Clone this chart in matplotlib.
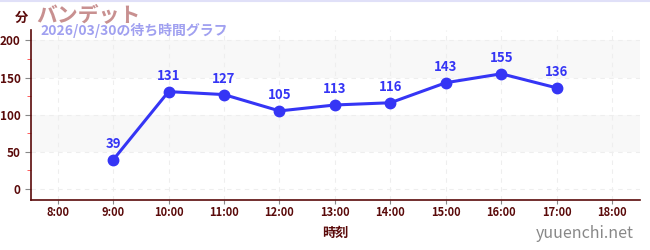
import matplotlib
matplotlib.use("Agg")
import matplotlib.pyplot as plt

plt.rcParams['font.family'] = ['Noto Sans CJK JP', 'DejaVu Sans']

hours = [9, 10, 11, 12, 13, 14, 15, 16, 17]
waits = [39, 131, 127, 105, 113, 116, 143, 155, 136]
xtick_hours = list(range(8, 19))
xtick_labels = [f"{h}:00" for h in xtick_hours]
yticks = [0, 50, 100, 150, 200]
title = "バンデット"
subtitle = "2026/03/30の待ち時間グラフ"
ylabel = "分"
xlabel = "時刻"
site = "yuuenchi.net"

fig = plt.figure(figsize=(6.5, 2.5), dpi=100)
ax = fig.add_axes([31/650, 50/250, 609/650, 170/250])
ax.set_xlim(7.52, 18.5)
ax.set_ylim(-15, 214)

for lo, hi in [(50, 100), (150, 200)]:
    ax.axhspan(lo, hi, color='#f8f8f8', zorder=0, lw=0)

ax.set_xticks(xtick_hours)
ax.set_xticklabels(xtick_labels)
ax.set_yticks(yticks)
ax.set_yticks([25, 75, 125, 175], minor=True)
ax.grid(True, axis='both', which='major', color='#eeeeee', linestyle=(0, (4, 4)), lw=0.8, zorder=0)

dark = '#5a0a0a'
for s in ['top', 'right']:
    ax.spines[s].set_visible(False)
ax.spines['left'].set_color(dark)
ax.spines['bottom'].set_color(dark)
ax.spines['left'].set_linewidth(1.2)
ax.spines['bottom'].set_linewidth(1.2)
ax.tick_params(axis='x', colors='#888888', length=3, pad=1.5, labelsize=8, labelcolor=dark)
ax.tick_params(axis='y', colors='#888888', length=4, labelsize=8.5, labelcolor=dark)
ax.tick_params(axis='y', which='minor', colors='#ff4444', length=3)
for lab in ax.get_xticklabels() + ax.get_yticklabels():
    lab.set_fontweight('bold')

line_c = '#3535f5'
ax.plot(hours, waits, color=line_c, lw=2.2, marker='o', ms=7.5, zorder=3)
for h, w in zip(hours, waits):
    ax.annotate(str(w), (h, w), xytext=(0, 6.5), textcoords='offset points',
                ha='center', va='bottom', color=line_c, fontsize=9.5, fontweight='bold')

ax.set_xlabel(xlabel, color=dark, fontsize=9.5, fontweight='bold', labelpad=5)

fig.text(15/650, 1 - 18/250, ylabel, color=dark, fontsize=9.5, fontweight='bold', ha='left', va='center')
fig.text(36/650, 1 - 15/250, title, color='#c89090', fontsize=15, fontweight='bold', ha='left', va='center')
fig.text(40/650, 1 - 31/250, subtitle, color='#a0a0f0', fontsize=10, fontweight='bold', ha='left', va='center')
fig.text(634/650, 1 - 233/250, site, color='#888888', fontsize=11.5, ha='right', va='center')

fig.add_artist(plt.Line2D([0, 1], [1 - 1/250, 1 - 1/250], transform=fig.transFigure, color='#e0e0f8', lw=1.5))

fig.savefig('out.png', dpi=100)
